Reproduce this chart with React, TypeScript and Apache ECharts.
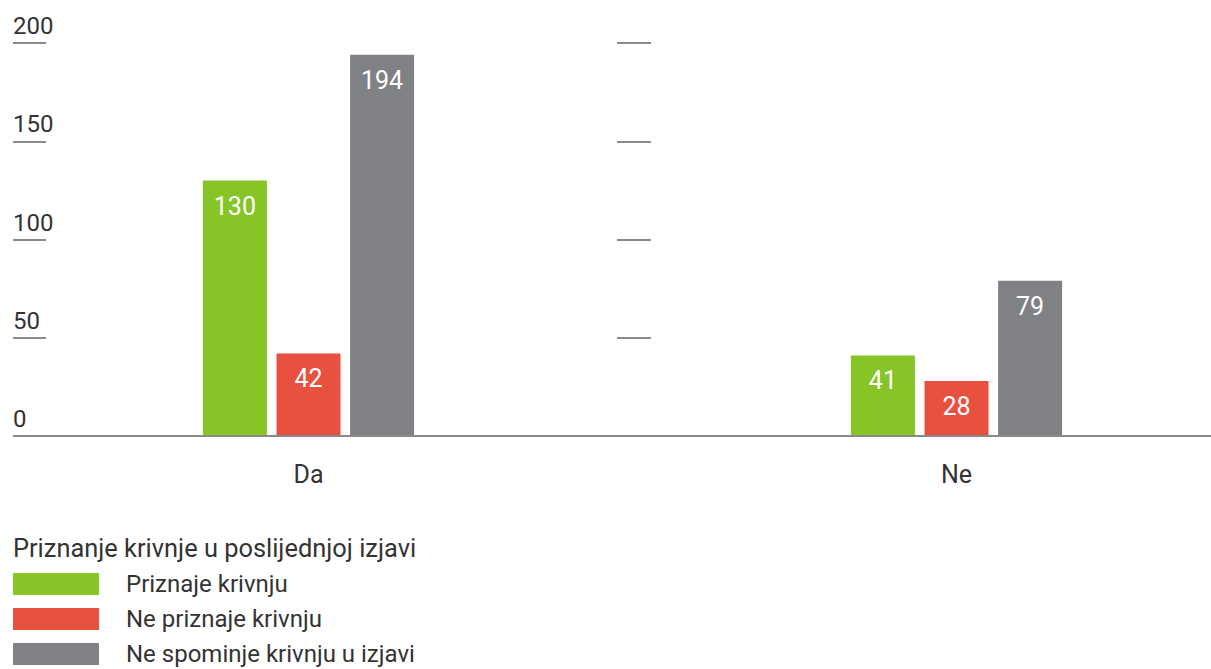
import React, { useEffect, useRef } from "react";
import * as echarts from "echarts";

const categories = ["Da", "Ne"];
const seriesNames = ["Priznaje krivnju", "Ne priznaje krivnju", "Ne spominje krivnju u izjavi"];
const priznaje = [130, 41];
const nePriznaje = [42, 28];
const neSpominje = [194, 79];
const colors = ["#86c525", "#e8503f", "#808184"];
const legendTitle = "Priznanje krivnje u poslijednjoj izjavi";
const yMin = 0;
const yMax = 200;
const yInterval = 50;

const FONT = "'Liberation Sans Narrow', 'Roboto', 'Liberation Sans', sans-serif";

export default function App() {
  const ref = useRef<HTMLDivElement>(null);
  useEffect(() => {
    if (!ref.current) return;
    const chart = echarts.init(ref.current, undefined, { renderer: "svg" });
    const gridTop = 43;
    const gridBottom = 233;
    const valueLabel = {
      show: true,
      position: "insideTop" as const,
      distance: 13,
      color: "#ffffff",
      fontSize: 25,
      fontFamily: FONT,
    };
    const data = [priznaje, nePriznaje, neSpominje];
    chart.setOption({
      animation: false,
      backgroundColor: "#ffffff",
      textStyle: { fontFamily: FONT },
      title: {
        text: legendTitle,
        left: 13,
        top: 535,
        padding: 0,
        textStyle: { fontFamily: FONT, fontSize: 25.4, fontWeight: "normal", color: "#333333" },
      },
      legend: {
        orient: "vertical",
        left: 13,
        top: 572,
        padding: 0,
        itemWidth: 86,
        itemHeight: 22,
        itemGap: 11,
        icon: "rect",
        textStyle: { fontFamily: FONT, fontSize: 24, color: "#333333", padding: [0, 0, 0, 22] },
        data: seriesNames,
      },
      grid: {
        left: -15.5,
        width: 1296,
        top: gridTop,
        bottom: gridBottom,
        containLabel: false,
        outerBoundsMode: "none",
      },
      xAxis: {
        type: "category",
        data: categories,
        axisLine: { show: false },
        axisTick: { show: false },
        axisLabel: { margin: 26, fontSize: 25, color: "#333333", fontFamily: FONT },
        splitLine: { show: false },
      },
      yAxis: [
        {
          type: "value",
          min: yMin,
          max: yMax,
          interval: yInterval,
          position: "left",
          offset: -61.5,
          axisLine: { show: false },
          axisTick: { show: true, length: 33, lineStyle: { color: "#8a8a8a", width: 2 } },
          axisLabel: {
            show: true,
            align: "left",
            verticalAlign: "bottom",
            margin: 33,
            padding: [0, 0, 5, 0],
            fontSize: 24,
            color: "#333333",
            fontFamily: FONT,
          },
          splitLine: { show: false },
        },
        {
          type: "value",
          min: yMin,
          max: yMax,
          interval: yInterval,
          position: "left",
          offset: -666.5,
          axisLine: { show: false },
          axisTick: { show: true, length: 34, lineStyle: { color: "#8a8a8a", width: 2 } },
          axisLabel: { show: false },
          splitLine: { show: false },
        },
      ],
      graphic: [
        {
          type: "line",
          shape: { x1: 13, y1: 669 - gridBottom, x2: 1211, y2: 669 - gridBottom },
          style: { stroke: "#8a8a8a", lineWidth: 2 },
          z: 10,
        },
      ],
      series: seriesNames.map((name, i) => ({
        name,
        type: "bar",
        data: data[i],
        barWidth: 64,
        barGap: "15%",
        itemStyle: { color: colors[i] },
        label: valueLabel,
        yAxisIndex: 0,
      })),
    });
    return () => chart.dispose();
  }, []);
  return (
    <div
      ref={ref}
      style={{ position: "fixed", left: 0, top: 0, width: 1211, height: 669 }}
    />
  );
}
